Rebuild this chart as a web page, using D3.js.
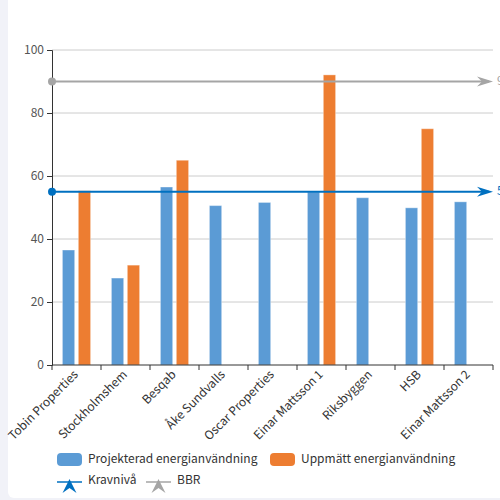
<!DOCTYPE html>
<html>
<head>
<meta charset="utf-8">
<script src="https://cdn.jsdelivr.net/npm/d3@7"></script>
<style>
  html, body { margin: 0; padding: 0; background: #f1f2f8; }
  svg { display: block; }
  text { font-family: "Noto Sans CJK SC", "Noto Sans", sans-serif; font-size: 12px; }
</style>
</head>
<body>
<svg id="chart" width="500" height="500"></svg>
<script>
const categories = ["Tobin Properties", "Stockholmshem", "Besqab", "Åke Sundvalls", "Oscar Properties", "Einar Mattsson 1", "Riksbyggen", "HSB", "Einar Mattsson 2"];
const projected = [36.5, 27.6, 56.5, 50.6, 51.6, 54.9, 53.1, 49.9, 51.8];
const measured = [55.3, 31.7, 65.0, null, null, 92.1, null, 75.0, null];
const seriesNames = ["Projekterad energianvändning", "Uppmätt energianvändning"];
const lineNames = ["Kravnivå", "BBR"];
const lineValues = [55, 90];
const yTicks = [0, 20, 40, 60, 80, 100];

const barColors = ["#5b9bd5", "#ed7d31"];
const lineColors = ["#0070c0", "#a5a5a5"];

(function () {
const svg = d3.select("#chart");
// card
svg.append("rect").attr("x", 8).attr("y", -10).attr("width", 510).attr("height", 508)
  .attr("rx", 6).attr("fill", "#ffffff");

const pLeft = 52, pRight = 493, pTop = 50, pBottom = 365;
const x = d3.scaleBand().domain(categories).range([pLeft, pRight]);
const y = d3.scaleLinear().domain([0, 100]).range([pBottom, pTop]);

// grid
svg.append("g").selectAll("line").data(yTicks.filter(d => d > 0)).join("line")
  .attr("x1", pLeft).attr("x2", pRight)
  .attr("y1", d => y(d)).attr("y2", d => y(d))
  .attr("stroke", "#cccccc").attr("stroke-width", 1);

// bars
const bw = x.bandwidth() * 0.25;
const inner = d3.scaleBand().domain([0, 1]).range([0, bw * 2.3]).paddingInner(0.3 / 1.3);
const groupOffset = (x.bandwidth() - bw * 2.3) / 2;
const barData = [];
categories.forEach((c, i) => {
  [projected[i], measured[i]].forEach((v, s) => {
    if (v != null) barData.push({ c, v, s });
  });
});
svg.append("g").selectAll("rect").data(barData).join("rect")
  .attr("x", d => x(d.c) + groupOffset + inner(d.s))
  .attr("width", inner.bandwidth())
  .attr("y", d => y(d.v))
  .attr("height", d => y(0) - y(d.v))
  .attr("fill", d => barColors[d.s])
  .attr("stroke", "rgba(255,255,255,0.35)").attr("stroke-width", 1);

// y axis
const yAxis = d3.axisLeft(y).tickValues(yTicks).tickSize(5).tickPadding(3);
const gy = svg.append("g").attr("transform", `translate(${pLeft},0)`).call(yAxis);
gy.select(".domain").attr("stroke", "#333");
gy.selectAll(".tick line").attr("stroke", "#333");
gy.selectAll(".tick text").attr("fill", "#555").style("font-size", "12px")
  .style("font-family", '"Noto Sans CJK SC", "Noto Sans", sans-serif');

// x axis
const gx = svg.append("g").attr("transform", `translate(0,${pBottom})`);
gx.append("line").attr("x1", pLeft).attr("x2", pRight).attr("y1", 0).attr("y2", 0).attr("stroke", "#333");
const bounds = categories.map(c => x(c)).concat([pRight]);
gx.selectAll("line.tk").data(bounds).join("line").attr("class", "tk")
  .attr("x1", d => d).attr("x2", d => d).attr("y1", 0).attr("y2", 5).attr("stroke", "#333");
gx.selectAll("text").data(categories).join("text")
  .attr("transform", d => `translate(${x(d) + x.bandwidth() / 2},8) rotate(-45)`)
  .attr("text-anchor", "end").attr("dominant-baseline", "middle")
  .attr("fill", "#333").text(d => d);

// reference lines
function arrowRight(tx, ty) {
  return `M${tx},${ty} L${tx - 16},${ty - 5} L${tx - 11},${ty} L${tx - 16},${ty + 5} Z`;
}
lineValues.forEach((v, i) => {
  const g = svg.append("g");
  g.append("line").attr("x1", pLeft).attr("x2", pRight - 4).attr("y1", y(v)).attr("y2", y(v))
    .attr("stroke", lineColors[i]).attr("stroke-width", 2);
  g.append("circle").attr("cx", pLeft).attr("cy", y(v)).attr("r", 4).attr("fill", lineColors[i]);
  g.append("path").attr("d", arrowRight(pRight, y(v))).attr("fill", lineColors[i]);
  g.append("text").attr("x", 497).attr("y", y(v)).attr("dominant-baseline", "middle")
    .attr("fill", lineColors[i]).text(v);
});

// legend
const lg = svg.append("g");
const row1 = [{ x: 57, name: seriesNames[0], c: barColors[0] }, { x: 270, name: seriesNames[1], c: barColors[1] }];
row1.forEach(d => {
  lg.append("rect").attr("x", d.x).attr("y", 453).attr("width", 25).attr("height", 13).attr("rx", 4).attr("fill", d.c);
  lg.append("text").attr("x", d.x + 31).attr("y", 460).attr("dominant-baseline", "middle").attr("fill", "#333").text(d.name);
});
const row2 = [{ x: 57, name: lineNames[0], c: lineColors[0] }, { x: 146, name: lineNames[1], c: lineColors[1] }];
row2.forEach(d => {
  const cx = d.x + 12.5;
  lg.append("path").attr("d", `M${cx},479 L${cx + 7},493 L${cx},488 L${cx - 7},493 Z`).attr("fill", d.c);
  lg.append("line").attr("x1", d.x).attr("x2", d.x + 25).attr("y1", 482).attr("y2", 482)
    .attr("stroke", d.c).attr("stroke-width", 1.5);
  lg.append("text").attr("x", d.x + 31).attr("y", 481).attr("dominant-baseline", "middle").attr("fill", "#333").text(d.name);
});
})();
</script>
</body>
</html>
